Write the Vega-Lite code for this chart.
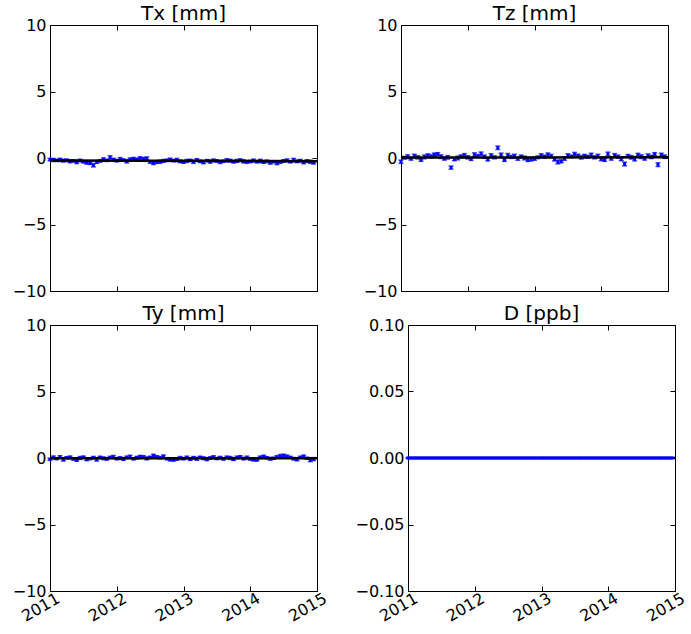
{
  "$schema": "https://vega.github.io/schema/vega-lite/v6.json",
  "padding": {"left": 11, "top": 3, "right": 0, "bottom": 0},
  "background": "white",
  "config": {
    "font": "DejaVu Sans",
    "view": {"stroke": "black", "strokeWidth": 1},
    "axis": {"grid": false, "domain": false, "tickColor": "black", "tickSize": -5, "tickWidth": 1, "labelPadding": 9, "labelFont": "DejaVu Sans", "labelFontSize": 16, "labelColor": "black", "labelFlush": false, "labelOverlap": false},
    "title": {"font": "DejaVu Sans", "fontSize": 20, "fontWeight": "normal", "color": "black", "offset": -7, "frame": "group", "anchor": "middle"}
  },
  "datasets": {
    "tx": [
      {"t":2011.00,"v":-0.12,"e":0.09},{"t":2011.05,"v":-0.15,"e":0.11},{"t":2011.10,"v":-0.18,"e":0.08},{"t":2011.15,"v":-0.14,"e":0.12},{"t":2011.20,"v":-0.20,"e":0.10},
      {"t":2011.25,"v":-0.17,"e":0.09},{"t":2011.30,"v":-0.25,"e":0.11},{"t":2011.35,"v":-0.22,"e":0.08},{"t":2011.40,"v":-0.30,"e":0.12},{"t":2011.45,"v":-0.19,"e":0.10},
      {"t":2011.50,"v":-0.28,"e":0.09},{"t":2011.55,"v":-0.35,"e":0.11},{"t":2011.60,"v":-0.40,"e":0.08},{"t":2011.65,"v":-0.55,"e":0.12},{"t":2011.70,"v":-0.30,"e":0.10},
      {"t":2011.75,"v":-0.22,"e":0.09},{"t":2011.80,"v":-0.10,"e":0.11},{"t":2011.85,"v":-0.18,"e":0.08},{"t":2011.90,"v":0.05,"e":0.12},{"t":2011.95,"v":-0.12,"e":0.10},
      {"t":2012.00,"v":-0.20,"e":0.09},{"t":2012.05,"v":-0.08,"e":0.11},{"t":2012.10,"v":-0.15,"e":0.08},{"t":2012.15,"v":-0.25,"e":0.12},{"t":2012.20,"v":-0.10,"e":0.10},
      {"t":2012.25,"v":-0.05,"e":0.09},{"t":2012.30,"v":-0.12,"e":0.11},{"t":2012.35,"v":0.00,"e":0.08},{"t":2012.40,"v":-0.08,"e":0.12},{"t":2012.45,"v":-0.02,"e":0.10},
      {"t":2012.50,"v":-0.30,"e":0.09},{"t":2012.55,"v":-0.38,"e":0.11},{"t":2012.60,"v":-0.32,"e":0.08},{"t":2012.65,"v":-0.28,"e":0.12},{"t":2012.70,"v":-0.22,"e":0.10},
      {"t":2012.75,"v":-0.18,"e":0.09},{"t":2012.80,"v":-0.12,"e":0.11},{"t":2012.85,"v":-0.20,"e":0.08},{"t":2012.90,"v":-0.15,"e":0.12},{"t":2012.95,"v":-0.25,"e":0.10},
      {"t":2013.00,"v":-0.30,"e":0.09},{"t":2013.05,"v":-0.22,"e":0.11},{"t":2013.10,"v":-0.18,"e":0.08},{"t":2013.15,"v":-0.28,"e":0.12},{"t":2013.20,"v":-0.15,"e":0.10},
      {"t":2013.25,"v":-0.25,"e":0.09},{"t":2013.30,"v":-0.32,"e":0.11},{"t":2013.35,"v":-0.20,"e":0.08},{"t":2013.40,"v":-0.27,"e":0.12},{"t":2013.45,"v":-0.18,"e":0.10},
      {"t":2013.50,"v":-0.22,"e":0.09},{"t":2013.55,"v":-0.30,"e":0.11},{"t":2013.60,"v":-0.24,"e":0.08},{"t":2013.65,"v":-0.17,"e":0.12},{"t":2013.70,"v":-0.20,"e":0.10},
      {"t":2013.75,"v":-0.28,"e":0.09},{"t":2013.80,"v":-0.22,"e":0.11},{"t":2013.85,"v":-0.15,"e":0.08},{"t":2013.90,"v":-0.25,"e":0.12},{"t":2013.95,"v":-0.30,"e":0.10},
      {"t":2014.00,"v":-0.26,"e":0.09},{"t":2014.05,"v":-0.19,"e":0.11},{"t":2014.10,"v":-0.28,"e":0.08},{"t":2014.15,"v":-0.22,"e":0.12},{"t":2014.20,"v":-0.30,"e":0.10},
      {"t":2014.25,"v":-0.25,"e":0.09},{"t":2014.30,"v":-0.35,"e":0.11},{"t":2014.35,"v":-0.28,"e":0.08},{"t":2014.40,"v":-0.38,"e":0.12},{"t":2014.45,"v":-0.30,"e":0.10},
      {"t":2014.50,"v":-0.22,"e":0.09},{"t":2014.55,"v":-0.18,"e":0.11},{"t":2014.60,"v":-0.28,"e":0.08},{"t":2014.65,"v":-0.15,"e":0.12},{"t":2014.70,"v":-0.25,"e":0.10},
      {"t":2014.75,"v":-0.20,"e":0.09},{"t":2014.80,"v":-0.32,"e":0.11},{"t":2014.85,"v":-0.22,"e":0.08},{"t":2014.90,"v":-0.28,"e":0.12},{"t":2014.95,"v":-0.35,"e":0.10}
    ],
    "tz": [
      {"t":2011.00,"v":-0.28,"e":0.12},{"t":2011.05,"v":0.02,"e":0.10},{"t":2011.10,"v":0.10,"e":0.14},{"t":2011.15,"v":-0.05,"e":0.11},{"t":2011.20,"v":0.15,"e":0.13},
      {"t":2011.25,"v":0.05,"e":0.12},{"t":2011.30,"v":-0.15,"e":0.10},{"t":2011.35,"v":0.08,"e":0.14},{"t":2011.40,"v":0.20,"e":0.11},{"t":2011.45,"v":0.12,"e":0.13},
      {"t":2011.50,"v":0.25,"e":0.12},{"t":2011.55,"v":0.30,"e":0.10},{"t":2011.60,"v":0.10,"e":0.14},{"t":2011.65,"v":-0.05,"e":0.11},{"t":2011.70,"v":0.05,"e":0.13},
      {"t":2011.75,"v":-0.72,"e":0.12},{"t":2011.80,"v":-0.10,"e":0.10},{"t":2011.85,"v":0.00,"e":0.14},{"t":2011.90,"v":0.12,"e":0.11},{"t":2011.95,"v":0.20,"e":0.13},
      {"t":2012.00,"v":0.05,"e":0.12},{"t":2012.05,"v":-0.08,"e":0.10},{"t":2012.10,"v":0.25,"e":0.14},{"t":2012.15,"v":0.15,"e":0.11},{"t":2012.20,"v":0.32,"e":0.13},
      {"t":2012.25,"v":0.10,"e":0.12},{"t":2012.30,"v":-0.12,"e":0.10},{"t":2012.35,"v":0.18,"e":0.14},{"t":2012.40,"v":0.05,"e":0.11},{"t":2012.45,"v":0.77,"e":0.13},
      {"t":2012.50,"v":0.25,"e":0.12},{"t":2012.55,"v":-0.15,"e":0.10},{"t":2012.60,"v":0.20,"e":0.14},{"t":2012.65,"v":0.08,"e":0.11},{"t":2012.70,"v":0.15,"e":0.13},
      {"t":2012.75,"v":-0.05,"e":0.12},{"t":2012.80,"v":0.12,"e":0.10},{"t":2012.85,"v":0.00,"e":0.14},{"t":2012.90,"v":-0.15,"e":0.11},{"t":2012.95,"v":-0.10,"e":0.13},
      {"t":2013.00,"v":-0.05,"e":0.12},{"t":2013.05,"v":0.05,"e":0.10},{"t":2013.10,"v":0.18,"e":0.14},{"t":2013.15,"v":0.10,"e":0.11},{"t":2013.20,"v":0.25,"e":0.13},
      {"t":2013.25,"v":0.15,"e":0.12},{"t":2013.30,"v":-0.12,"e":0.10},{"t":2013.35,"v":-0.30,"e":0.14},{"t":2013.40,"v":-0.25,"e":0.11},{"t":2013.45,"v":-0.05,"e":0.13},
      {"t":2013.50,"v":0.20,"e":0.12},{"t":2013.55,"v":0.12,"e":0.10},{"t":2013.60,"v":0.28,"e":0.14},{"t":2013.65,"v":0.18,"e":0.11},{"t":2013.70,"v":0.05,"e":0.13},
      {"t":2013.75,"v":0.15,"e":0.12},{"t":2013.80,"v":0.10,"e":0.10},{"t":2013.85,"v":0.22,"e":0.14},{"t":2013.90,"v":0.05,"e":0.11},{"t":2013.95,"v":0.15,"e":0.13},
      {"t":2014.00,"v":-0.08,"e":0.12},{"t":2014.05,"v":-0.15,"e":0.10},{"t":2014.10,"v":0.30,"e":0.14},{"t":2014.15,"v":-0.05,"e":0.11},{"t":2014.20,"v":0.20,"e":0.13},
      {"t":2014.25,"v":0.10,"e":0.12},{"t":2014.30,"v":-0.10,"e":0.10},{"t":2014.35,"v":-0.45,"e":0.14},{"t":2014.40,"v":0.15,"e":0.11},{"t":2014.45,"v":0.05,"e":0.13},
      {"t":2014.50,"v":-0.10,"e":0.12},{"t":2014.55,"v":0.25,"e":0.10},{"t":2014.60,"v":0.10,"e":0.14},{"t":2014.65,"v":-0.05,"e":0.11},{"t":2014.70,"v":0.18,"e":0.13},
      {"t":2014.75,"v":0.08,"e":0.12},{"t":2014.80,"v":0.30,"e":0.10},{"t":2014.85,"v":-0.50,"e":0.14},{"t":2014.90,"v":0.25,"e":0.11},{"t":2014.95,"v":0.10,"e":0.13}
    ],
    "ty": [
      {"t":2011.00,"v":-0.10,"e":0.08},{"t":2011.05,"v":0.05,"e":0.10},{"t":2011.10,"v":-0.05,"e":0.07},{"t":2011.15,"v":0.08,"e":0.09},{"t":2011.20,"v":-0.12,"e":0.11},
      {"t":2011.25,"v":0.02,"e":0.08},{"t":2011.30,"v":0.05,"e":0.10},{"t":2011.35,"v":-0.08,"e":0.07},{"t":2011.40,"v":-0.15,"e":0.09},{"t":2011.45,"v":0.00,"e":0.11},
      {"t":2011.50,"v":0.06,"e":0.08},{"t":2011.55,"v":-0.10,"e":0.10},{"t":2011.60,"v":-0.05,"e":0.07},{"t":2011.65,"v":0.03,"e":0.09},{"t":2011.70,"v":-0.12,"e":0.11},
      {"t":2011.75,"v":0.05,"e":0.08},{"t":2011.80,"v":-0.02,"e":0.10},{"t":2011.85,"v":-0.08,"e":0.07},{"t":2011.90,"v":0.04,"e":0.09},{"t":2011.95,"v":0.08,"e":0.11},
      {"t":2012.00,"v":-0.05,"e":0.08},{"t":2012.05,"v":0.00,"e":0.10},{"t":2012.10,"v":-0.10,"e":0.07},{"t":2012.15,"v":0.05,"e":0.09},{"t":2012.20,"v":0.10,"e":0.11},
      {"t":2012.25,"v":-0.06,"e":0.08},{"t":2012.30,"v":0.02,"e":0.10},{"t":2012.35,"v":0.12,"e":0.07},{"t":2012.40,"v":0.08,"e":0.09},{"t":2012.45,"v":-0.03,"e":0.11},
      {"t":2012.50,"v":0.05,"e":0.08},{"t":2012.55,"v":0.18,"e":0.10},{"t":2012.60,"v":0.10,"e":0.07},{"t":2012.65,"v":0.02,"e":0.09},{"t":2012.70,"v":0.12,"e":0.11},
      {"t":2012.75,"v":-0.05,"e":0.08},{"t":2012.80,"v":-0.12,"e":0.10},{"t":2012.85,"v":-0.15,"e":0.07},{"t":2012.90,"v":-0.08,"e":0.09},{"t":2012.95,"v":0.00,"e":0.11},
      {"t":2013.00,"v":-0.05,"e":0.08},{"t":2013.05,"v":0.04,"e":0.10},{"t":2013.10,"v":-0.10,"e":0.07},{"t":2013.15,"v":0.02,"e":0.09},{"t":2013.20,"v":-0.06,"e":0.11},
      {"t":2013.25,"v":0.05,"e":0.08},{"t":2013.30,"v":-0.02,"e":0.10},{"t":2013.35,"v":-0.12,"e":0.07},{"t":2013.40,"v":0.00,"e":0.09},{"t":2013.45,"v":0.06,"e":0.11},
      {"t":2013.50,"v":-0.04,"e":0.08},{"t":2013.55,"v":0.02,"e":0.10},{"t":2013.60,"v":-0.08,"e":0.07},{"t":2013.65,"v":0.05,"e":0.09},{"t":2013.70,"v":0.00,"e":0.11},
      {"t":2013.75,"v":-0.10,"e":0.08},{"t":2013.80,"v":0.04,"e":0.10},{"t":2013.85,"v":0.10,"e":0.07},{"t":2013.90,"v":-0.05,"e":0.09},{"t":2013.95,"v":0.03,"e":0.11},
      {"t":2014.00,"v":-0.08,"e":0.08},{"t":2014.05,"v":-0.12,"e":0.10},{"t":2014.10,"v":-0.15,"e":0.07},{"t":2014.15,"v":0.05,"e":0.09},{"t":2014.20,"v":0.10,"e":0.11},
      {"t":2014.25,"v":0.02,"e":0.08},{"t":2014.30,"v":-0.06,"e":0.10},{"t":2014.35,"v":-0.02,"e":0.07},{"t":2014.40,"v":0.08,"e":0.09},{"t":2014.45,"v":0.15,"e":0.11},
      {"t":2014.50,"v":0.20,"e":0.08},{"t":2014.55,"v":0.12,"e":0.10},{"t":2014.60,"v":0.05,"e":0.07},{"t":2014.65,"v":-0.05,"e":0.09},{"t":2014.70,"v":-0.10,"e":0.11},
      {"t":2014.75,"v":0.05,"e":0.08},{"t":2014.80,"v":0.12,"e":0.10},{"t":2014.85,"v":-0.02,"e":0.07},{"t":2014.90,"v":-0.18,"e":0.09},{"t":2014.95,"v":-0.08,"e":0.11}
    ],
    "d": [
      {"t":2011.00,"v":0,"e":0.0004},{"t":2011.05,"v":0,"e":0.0004},{"t":2011.10,"v":0,"e":0.0004},{"t":2011.15,"v":0,"e":0.0004},{"t":2011.20,"v":0,"e":0.0004},
      {"t":2011.25,"v":0,"e":0.0004},{"t":2011.30,"v":0,"e":0.0004},{"t":2011.35,"v":0,"e":0.0004},{"t":2011.40,"v":0,"e":0.0004},{"t":2011.45,"v":0,"e":0.0004},
      {"t":2011.50,"v":0,"e":0.0004},{"t":2011.55,"v":0,"e":0.0004},{"t":2011.60,"v":0,"e":0.0004},{"t":2011.65,"v":0,"e":0.0004},{"t":2011.70,"v":0,"e":0.0004},
      {"t":2011.75,"v":0,"e":0.0004},{"t":2011.80,"v":0,"e":0.0004},{"t":2011.85,"v":0,"e":0.0004},{"t":2011.90,"v":0,"e":0.0004},{"t":2011.95,"v":0,"e":0.0004},
      {"t":2012.00,"v":0,"e":0.0004},{"t":2012.05,"v":0,"e":0.0004},{"t":2012.10,"v":0,"e":0.0004},{"t":2012.15,"v":0,"e":0.0004},{"t":2012.20,"v":0,"e":0.0004},
      {"t":2012.25,"v":0,"e":0.0004},{"t":2012.30,"v":0,"e":0.0004},{"t":2012.35,"v":0,"e":0.0004},{"t":2012.40,"v":0,"e":0.0004},{"t":2012.45,"v":0,"e":0.0004},
      {"t":2012.50,"v":0,"e":0.0004},{"t":2012.55,"v":0,"e":0.0004},{"t":2012.60,"v":0,"e":0.0004},{"t":2012.65,"v":0,"e":0.0004},{"t":2012.70,"v":0,"e":0.0004},
      {"t":2012.75,"v":0,"e":0.0004},{"t":2012.80,"v":0,"e":0.0004},{"t":2012.85,"v":0,"e":0.0004},{"t":2012.90,"v":0,"e":0.0004},{"t":2012.95,"v":0,"e":0.0004},
      {"t":2013.00,"v":0,"e":0.0004},{"t":2013.05,"v":0,"e":0.0004},{"t":2013.10,"v":0,"e":0.0004},{"t":2013.15,"v":0,"e":0.0004},{"t":2013.20,"v":0,"e":0.0004},
      {"t":2013.25,"v":0,"e":0.0004},{"t":2013.30,"v":0,"e":0.0004},{"t":2013.35,"v":0,"e":0.0004},{"t":2013.40,"v":0,"e":0.0004},{"t":2013.45,"v":0,"e":0.0004},
      {"t":2013.50,"v":0,"e":0.0004},{"t":2013.55,"v":0,"e":0.0004},{"t":2013.60,"v":0,"e":0.0004},{"t":2013.65,"v":0,"e":0.0004},{"t":2013.70,"v":0,"e":0.0004},
      {"t":2013.75,"v":0,"e":0.0004},{"t":2013.80,"v":0,"e":0.0004},{"t":2013.85,"v":0,"e":0.0004},{"t":2013.90,"v":0,"e":0.0004},{"t":2013.95,"v":0,"e":0.0004},
      {"t":2014.00,"v":0,"e":0.0004},{"t":2014.05,"v":0,"e":0.0004},{"t":2014.10,"v":0,"e":0.0004},{"t":2014.15,"v":0,"e":0.0004},{"t":2014.20,"v":0,"e":0.0004},
      {"t":2014.25,"v":0,"e":0.0004},{"t":2014.30,"v":0,"e":0.0004},{"t":2014.35,"v":0,"e":0.0004},{"t":2014.40,"v":0,"e":0.0004},{"t":2014.45,"v":0,"e":0.0004},
      {"t":2014.50,"v":0,"e":0.0004},{"t":2014.55,"v":0,"e":0.0004},{"t":2014.60,"v":0,"e":0.0004},{"t":2014.65,"v":0,"e":0.0004},{"t":2014.70,"v":0,"e":0.0004},
      {"t":2014.75,"v":0,"e":0.0004},{"t":2014.80,"v":0,"e":0.0004},{"t":2014.85,"v":0,"e":0.0004},{"t":2014.90,"v":0,"e":0.0004},{"t":2014.95,"v":0,"e":0.0004}
    ],
    "fit_tx": [{"t":2011,"v":-0.19},{"t":2015,"v":-0.24}],
    "fit_tz": [{"t":2011,"v":0.03},{"t":2015,"v":0.05}],
    "fit_ty": [{"t":2011,"v":-0.02},{"t":2015,"v":-0.02}],
    "fit_d": [{"t":2011,"v":0},{"t":2015,"v":0}]
  },
  "vconcat": [
    {
      "spacing": 39,
      "hconcat": [
        {
          "title": {"text": "Tx [mm]"},
          "width": 267, "height": 266,
          "resolve": {"axis": {"x": "independent", "y": "independent"}},
          "layer": [
            {"data": {"name": "tx"}, "mark": {"type": "errorbar", "color": "#0000ff", "thickness": 1.5, "ticks": {"size": 5}},
             "encoding": {
               "x": {"field": "t", "type": "quantitative", "scale": {"domain": [2011, 2015], "nice": false, "zero": false}, "axis": {"title": null, "values": [2011, 2012, 2013, 2014, 2015], "labels": false}},
               "y": {"field": "v", "type": "quantitative", "scale": {"domain": [-10, 10], "nice": false, "zero": false}, "axis": {"title": null, "values": [-10, -5, 0, 5, 10]}},
               "yError": {"field": "e"}}},
            {"data": {"name": "tx"}, "mark": {"type": "point", "shape": "square", "filled": true, "size": 9, "color": "#0000ff", "opacity": 1},
             "encoding": {"x": {"field": "t", "type": "quantitative", "axis": null}, "y": {"field": "v", "type": "quantitative", "axis": null}}},
            {"data": {"name": "fit_tx"}, "mark": {"type": "line", "color": "black", "strokeWidth": 2.5},
             "encoding": {
               "x": {"field": "t", "type": "quantitative", "axis": {"orient": "top", "labels": false, "title": null, "values": [2011, 2012, 2013, 2014, 2015]}},
               "y": {"field": "v", "type": "quantitative", "axis": {"orient": "right", "labels": false, "title": null, "values": [-10, -5, 0, 5, 10]}}}}
          ]
        },
        {
          "title": {"text": "Tz [mm]"},
          "width": 267, "height": 266,
          "resolve": {"axis": {"x": "independent", "y": "independent"}},
          "layer": [
            {"data": {"name": "tz"}, "mark": {"type": "errorbar", "color": "#0000ff", "thickness": 1.5, "ticks": {"size": 5}},
             "encoding": {
               "x": {"field": "t", "type": "quantitative", "scale": {"domain": [2011, 2015], "nice": false, "zero": false}, "axis": {"title": null, "values": [2011, 2012, 2013, 2014, 2015], "labels": false}},
               "y": {"field": "v", "type": "quantitative", "scale": {"domain": [-10, 10], "nice": false, "zero": false}, "axis": {"title": null, "values": [-10, -5, 0, 5, 10]}},
               "yError": {"field": "e"}}},
            {"data": {"name": "tz"}, "mark": {"type": "point", "shape": "square", "filled": true, "size": 9, "color": "#0000ff", "opacity": 1},
             "encoding": {"x": {"field": "t", "type": "quantitative", "axis": null}, "y": {"field": "v", "type": "quantitative", "axis": null}}},
            {"data": {"name": "fit_tz"}, "mark": {"type": "line", "color": "black", "strokeWidth": 2.5},
             "encoding": {
               "x": {"field": "t", "type": "quantitative", "axis": {"orient": "top", "labels": false, "title": null, "values": [2011, 2012, 2013, 2014, 2015]}},
               "y": {"field": "v", "type": "quantitative", "axis": {"orient": "right", "labels": false, "title": null, "values": [-10, -5, 0, 5, 10]}}}}
          ]
        }
      ]
    },
    {
      "spacing": 24,
      "hconcat": [
        {
          "title": {"text": "Ty [mm]"},
          "width": 267, "height": 266,
          "resolve": {"axis": {"x": "independent", "y": "independent"}},
          "layer": [
            {"data": {"name": "ty"}, "mark": {"type": "errorbar", "color": "#0000ff", "thickness": 1.5, "ticks": {"size": 5}},
             "encoding": {
               "x": {"field": "t", "type": "quantitative", "scale": {"domain": [2011, 2015], "nice": false, "zero": false}, "axis": {"title": null, "values": [2011, 2012, 2013, 2014, 2015], "format": "d", "labelAngle": -30, "labelAlign": "right", "labelBaseline": "top", "labelPadding": 4, "labelOffset": 4}},
               "y": {"field": "v", "type": "quantitative", "scale": {"domain": [-10, 10], "nice": false, "zero": false}, "axis": {"title": null, "values": [-10, -5, 0, 5, 10]}},
               "yError": {"field": "e"}}},
            {"data": {"name": "ty"}, "mark": {"type": "point", "shape": "square", "filled": true, "size": 9, "color": "#0000ff", "opacity": 1},
             "encoding": {"x": {"field": "t", "type": "quantitative", "axis": null}, "y": {"field": "v", "type": "quantitative", "axis": null}}},
            {"data": {"name": "fit_ty"}, "mark": {"type": "line", "color": "black", "strokeWidth": 2.5},
             "encoding": {
               "x": {"field": "t", "type": "quantitative", "axis": {"orient": "top", "labels": false, "title": null, "values": [2011, 2012, 2013, 2014, 2015]}},
               "y": {"field": "v", "type": "quantitative", "axis": {"orient": "right", "labels": false, "title": null, "values": [-10, -5, 0, 5, 10]}}}}
          ]
        },
        {
          "title": {"text": "D [ppb]"},
          "width": 267, "height": 266,
          "resolve": {"axis": {"x": "independent", "y": "independent"}},
          "layer": [
            {"data": {"name": "fit_d"}, "mark": {"type": "line", "color": "black", "strokeWidth": 2.5},
             "encoding": {
               "x": {"field": "t", "type": "quantitative", "scale": {"domain": [2011, 2015], "nice": false, "zero": false}, "axis": {"title": null, "values": [2011, 2012, 2013, 2014, 2015], "format": "d", "labelAngle": -30, "labelAlign": "right", "labelBaseline": "top", "labelPadding": 4, "labelOffset": 4}},
               "y": {"field": "v", "type": "quantitative", "scale": {"domain": [-0.1, 0.1], "nice": false, "zero": false}, "axis": {"title": null, "values": [-0.1, -0.05, 0, 0.05, 0.1], "format": ".2f"}}}},
            {"data": {"name": "d"}, "mark": {"type": "errorbar", "color": "#0000ff", "thickness": 1.5, "ticks": {"size": 5}},
             "encoding": {
               "x": {"field": "t", "type": "quantitative", "axis": null},
               "y": {"field": "v", "type": "quantitative", "axis": null},
               "yError": {"field": "e"}}},
            {"data": {"name": "d"}, "mark": {"type": "point", "shape": "square", "filled": true, "size": 9, "color": "#0000ff", "opacity": 1},
             "encoding": {
               "x": {"field": "t", "type": "quantitative", "axis": {"orient": "top", "labels": false, "title": null, "values": [2011, 2012, 2013, 2014, 2015]}},
               "y": {"field": "v", "type": "quantitative", "axis": {"orient": "right", "labels": false, "title": null, "values": [-0.1, -0.05, 0, 0.05, 0.1]}}}}
          ]
        }
      ]
    }
  ],
  "spacing": 3
}
